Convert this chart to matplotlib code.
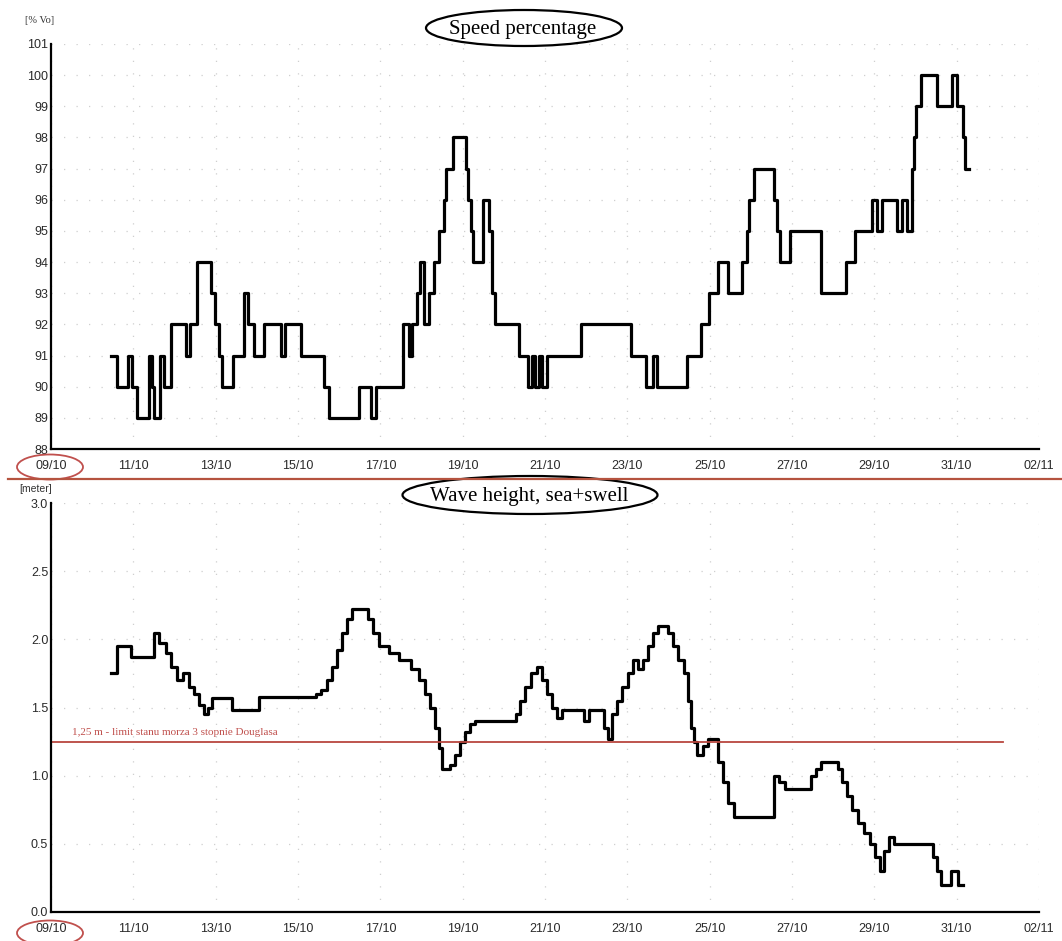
import matplotlib
matplotlib.use("Agg")
import matplotlib.pyplot as plt
from matplotlib.patches import Ellipse

# time axis: days counted from 09/10 00:00
date_labels = ["09/10", "11/10", "13/10", "15/10", "17/10", "19/10", "21/10",
               "23/10", "25/10", "27/10", "29/10", "31/10", "02/11"]
date_ticks = [0, 2, 4, 6, 8, 10, 12, 14, 16, 18, 20, 22, 24]

# speed percentage [% Vo], step changes (day, value)
speed_days = [1.457, 1.603, 1.870, 1.967, 2.089, 2.380, 2.453, 2.502, 2.648, 2.745,
              2.915, 3.279, 3.376, 3.546, 3.886, 3.983, 4.081, 4.154, 4.421, 4.688,
              4.785, 4.931, 5.174, 5.587, 5.684, 6.072, 6.631, 6.753, 7.481, 7.773,
              7.894, 8.550, 8.696, 8.769, 8.890, 8.963, 9.060, 9.181, 9.303, 9.424,
              9.546, 9.594, 9.764, 10.080, 10.129, 10.202, 10.250, 10.493, 10.639, 10.712,
              10.785, 11.368, 11.586, 11.683, 11.756, 11.853, 11.926, 12.048, 12.874, 14.088,
              14.452, 14.622, 14.720, 15.448, 15.788, 15.983, 16.201, 16.444, 16.784, 16.906,
              16.954, 17.076, 17.561, 17.634, 17.707, 17.950, 18.703, 19.310, 19.529, 19.942,
              20.063, 20.185, 20.549, 20.670, 20.792, 20.913, 20.962, 21.011, 21.132, 21.520,
              21.885, 22.006, 22.152, 22.201, 22.298]
speed_vals = [91, 90, 91, 90, 89, 91, 90, 89, 91, 90,
              92, 91, 92, 94, 93, 92, 91, 90, 91, 93,
              92, 91, 92, 91, 92, 91, 90, 89, 90, 89,
              90, 92, 91, 92, 93, 94, 92, 93, 94, 95,
              96, 97, 98, 97, 96, 95, 94, 96, 95, 93,
              92, 91, 90, 91, 90, 91, 90, 91, 92, 91,
              90, 91, 90, 91, 92, 93, 94, 93, 94, 95,
              96, 97, 96, 95, 94, 95, 93, 94, 95, 96,
              95, 96, 95, 96, 95, 97, 98, 99, 100, 99,
              100, 99, 98, 97, 97]

# wave height, sea+swell [m]
wave_days = [1.457, 1.603, 1.943, 2.502, 2.623, 2.793, 2.915, 3.060, 3.206, 3.352,
             3.473, 3.595, 3.716, 3.813, 3.911, 4.396, 5.052, 6.437, 6.558, 6.704,
             6.825, 6.947, 7.068, 7.190, 7.311, 7.700, 7.821, 7.967, 8.210, 8.453,
             8.744, 8.939, 9.084, 9.206, 9.327, 9.424, 9.497, 9.691, 9.813, 9.934,
             10.056, 10.177, 10.299, 11.295, 11.392, 11.513, 11.659, 11.805, 11.926, 12.048,
             12.169, 12.291, 12.412, 12.946, 13.068, 13.432, 13.529, 13.626, 13.748, 13.869,
             14.015, 14.136, 14.258, 14.379, 14.501, 14.622, 14.744, 14.987, 15.108, 15.230,
             15.375, 15.472, 15.545, 15.618, 15.691, 15.837, 15.959, 16.201, 16.323, 16.444,
             16.590, 17.561, 17.683, 17.829, 18.460, 18.582, 18.703, 19.116, 19.213, 19.335,
             19.456, 19.602, 19.747, 19.893, 20.015, 20.136, 20.233, 20.355, 20.476, 21.423,
             21.520, 21.617, 21.860, 22.031, 22.150]
wave_vals = [1.75, 1.95, 1.87, 2.05, 1.97, 1.90, 1.80, 1.70, 1.75, 1.65,
             1.60, 1.52, 1.45, 1.50, 1.57, 1.48, 1.58, 1.60, 1.63, 1.70,
             1.80, 1.92, 2.05, 2.15, 2.22, 2.15, 2.05, 1.95, 1.90, 1.85,
             1.78, 1.70, 1.60, 1.50, 1.35, 1.20, 1.05, 1.08, 1.15, 1.25,
             1.32, 1.38, 1.40, 1.45, 1.55, 1.65, 1.75, 1.80, 1.70, 1.60,
             1.50, 1.42, 1.48, 1.40, 1.48, 1.35, 1.27, 1.45, 1.55, 1.65,
             1.75, 1.85, 1.78, 1.85, 1.95, 2.05, 2.10, 2.05, 1.95, 1.85,
             1.75, 1.55, 1.35, 1.25, 1.15, 1.22, 1.27, 1.10, 0.95, 0.80,
             0.70, 1.00, 0.95, 0.90, 1.00, 1.05, 1.10, 1.05, 0.95, 0.85,
             0.75, 0.65, 0.58, 0.50, 0.40, 0.30, 0.45, 0.55, 0.50, 0.40,
             0.30, 0.20, 0.30, 0.20, 0.20]

douglas_limit = 1.25
limit_text = "1,25 m - limit stanu morza 3 stopnie Douglasa"

W, H = 1062, 941
fig = plt.figure(figsize=(W / 100, H / 100), dpi=100)


def px_axes(x0, y0, x1, y1):
    # axes from pixel box (top-left origin)
    return fig.add_axes([x0 / W, 1 - y1 / H, (x1 - x0) / W, (y1 - y0) / H])


grid_kw = dict(color="#cfcfcf", linestyle=(0, (1, 9)), linewidth=0.9)
tick_font = dict(family="Liberation Sans", size=9)


def style_axes(ax, yticks, ylabels):
    for s in ["top", "right"]:
        ax.spines[s].set_visible(False)
    ax.spines["left"].set_linewidth(1.6)
    ax.spines["bottom"].set_linewidth(1.6)
    ax.set_xlim(0, 24)
    ax.set_xticks(date_ticks)
    ax.set_xticklabels(date_labels, fontdict=tick_font, color="#2a2a2a")
    ax.set_yticks(yticks)
    ax.set_yticklabels(ylabels, fontdict=tick_font, color="#2a2a2a")
    ax.tick_params(axis="x", length=0, pad=8)
    ax.tick_params(axis="y", length=0, pad=2)
    ax.grid(True, **grid_kw)
    ax.set_axisbelow(True)


# speed percentage
ax1 = px_axes(51, 44, 1039, 449)
ax1.plot(speed_days, speed_vals, drawstyle="steps-post", color="black", linewidth=2.3)
ax1.set_ylim(88, 101)
style_axes(ax1, list(range(88, 102)), [str(v) for v in range(88, 102)])

# wave height
ax2 = px_axes(51, 503, 1039, 912)
ax2.plot(wave_days, wave_vals, drawstyle="steps-post", color="black", linewidth=2.3)
ax2.set_ylim(0, 3.0)
style_axes(ax2, [0, 0.5, 1.0, 1.5, 2.0, 2.5, 3.0],
           ["0.0", "0.5", "1.0", "1.5", "2.0", "2.5", "3.0"])
ax2.axhline(douglas_limit, xmin=0, xmax=(1003 - 51) / (1039 - 51),
            color="#b9473f", linewidth=1.3)
ax2.text(0.5, douglas_limit + 0.05, limit_text, family="Liberation Serif",
         fontsize=8, color="#c0504d")

# annotations drawn on a full-figure overlay in pixel units
ov = fig.add_axes([0, 0, 1, 1], zorder=10)
ov.set_xlim(0, W)
ov.set_ylim(H, 0)
ov.axis("off")
ov.patch.set_alpha(0)

ov.text(40, 20, "[% Vo]", family="Liberation Serif", fontsize=7.5,
        color="#333333", ha="center", va="center")
ov.text(36, 489, "[meter]", family="Liberation Sans", fontsize=7.5,
        color="#333333", ha="center", va="center")

ov.add_patch(Ellipse((524, 28), 196, 36, facecolor="white", edgecolor="black", linewidth=1.6))
ov.text(523, 29, "Speed percentage", family="Liberation Serif", fontsize=15,
        ha="center", va="center")
ov.add_patch(Ellipse((530, 495), 255, 38, facecolor="white", edgecolor="black", linewidth=1.6))
ov.text(529, 496, "Wave height, sea+swell", family="Liberation Serif", fontsize=15,
        ha="center", va="center")

# separator between the panels
ov.plot([8, W], [479, 479], color="#b5533f", linewidth=1.6)

# circled start dates
ov.add_patch(Ellipse((50, 467), 66, 25, facecolor="none", edgecolor="#c0504d", linewidth=1.3))
ov.add_patch(Ellipse((50, 933), 66, 25, facecolor="none", edgecolor="#c0504d", linewidth=1.3))

fig.savefig("out.png", dpi=100, facecolor="white")
